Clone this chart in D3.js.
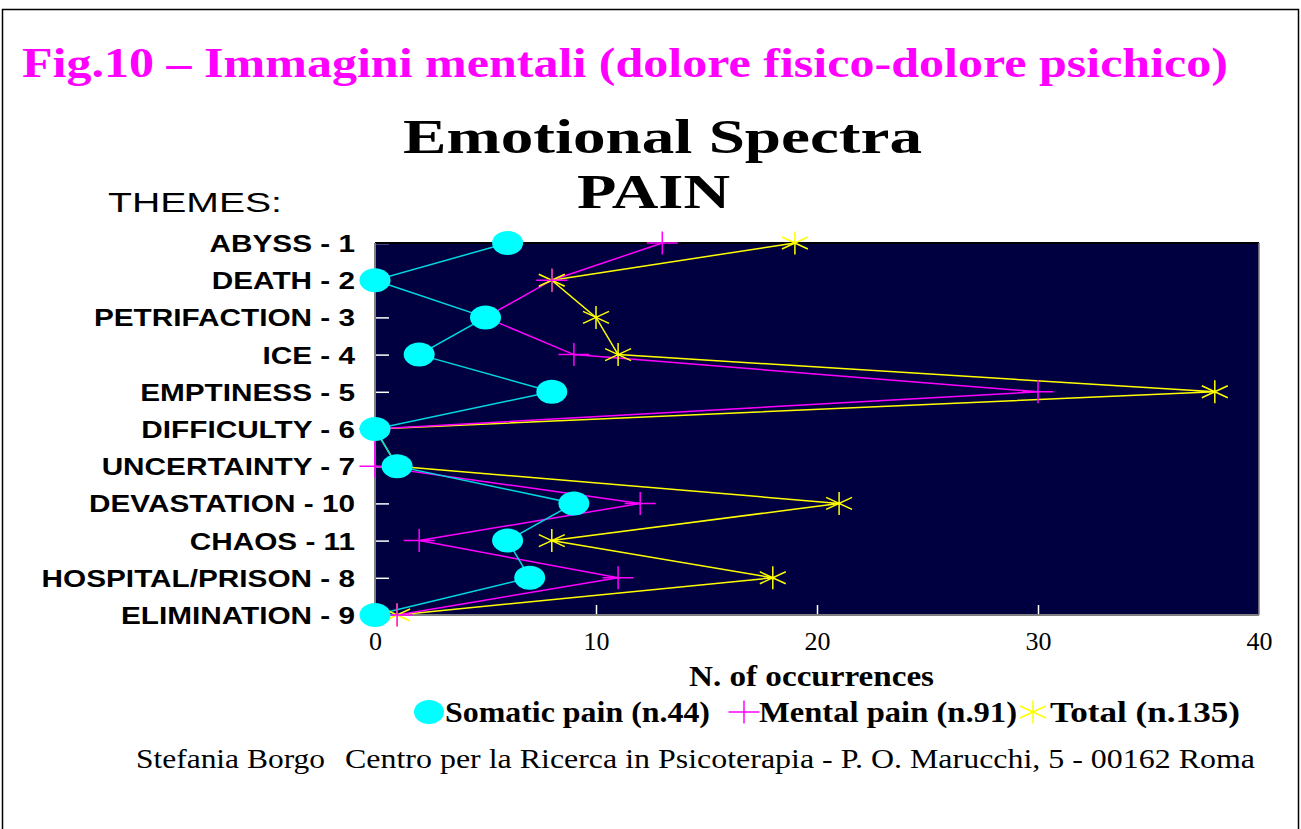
<!DOCTYPE html>
<html>
<head>
<meta charset="utf-8">
<script src="https://cdn.jsdelivr.net/npm/d3@7"></script>
<style>
  body { margin: 0; background: #fff; }
  svg { display: block; }
</style>
</head>
<body>
<svg id="chart" width="1301" height="829"></svg>
<script>
// themes, top to bottom
const themes = ["ABYSS - 1", "DEATH - 2", "PETRIFACTION - 3", "ICE - 4", "EMPTINESS - 5",
    "DIFFICULTY - 6", "UNCERTAINTY - 7", "DEVASTATION - 10", "CHAOS - 11",
    "HOSPITAL/PRISON - 8", "ELIMINATION - 9"];
const somatic = [6, 0, 5, 2, 8, 0, 1, 9, 6, 7, 0];
const mental = [13, 8, 5, 9, 30, 0, 0, 12, 2, 11, 1];
const total = [19, 8, 10, 11, 38, 0, 1, 21, 8, 18, 1];
const xTicks = [0, 10, 20, 30, 40];

const svg = d3.select("#chart");
const serif = "'Liberation Serif', 'Times New Roman', serif";
const sans = "'Liberation Sans', Arial, sans-serif";

// outer frame
svg.append("rect")
    .attr("x", 2.5).attr("y", 9.5)
    .attr("width", 1296).attr("height", 900)
    .attr("fill", "none").attr("stroke", "#000").attr("stroke-width", 1.5);

// headings
svg.append("text")
    .attr("x", 22).attr("y", 77)
    .attr("font-family", serif).attr("font-weight", "bold").attr("font-size", 42)
    .attr("fill", "#ff00ff")
    .attr("textLength", 1206).attr("lengthAdjust", "spacingAndGlyphs")
    .text("Fig.10 \u2013 Immagini mentali (dolore fisico-dolore psichico)");

svg.append("text")
    .attr("x", 403).attr("y", 153)
    .attr("font-family", serif).attr("font-weight", "bold").attr("font-size", 49)
    .attr("textLength", 519).attr("lengthAdjust", "spacingAndGlyphs")
    .text("Emotional  Spectra");

svg.append("text")
    .attr("x", 577).attr("y", 208)
    .attr("font-family", serif).attr("font-weight", "bold").attr("font-size", 49)
    .attr("textLength", 153).attr("lengthAdjust", "spacingAndGlyphs")
    .text("PAIN");

svg.append("text")
    .attr("x", 108).attr("y", 212)
    .attr("font-family", sans).attr("font-size", 28)
    .attr("textLength", 174).attr("lengthAdjust", "spacingAndGlyphs")
    .text("THEMES:");

// plot area
const plotLeft = 375, plotRight = 1259, plotTop = 243, plotBottom = 615;

const x = d3.scaleLinear().domain([0, 40]).range([plotLeft, plotRight]);
const y = d3.scalePoint().domain(themes).range([plotTop, plotBottom]);

svg.append("rect")
    .attr("x", plotLeft).attr("y", plotTop)
    .attr("width", plotRight - plotLeft).attr("height", plotBottom - plotTop)
    .attr("fill", "#000040");

// y ticks inside the plot
const yAxis = svg.append("g")
    .attr("transform", `translate(${plotLeft},0)`)
    .call(d3.axisLeft(y).tickSize(-14).tickFormat(""));
yAxis.select(".domain").remove();
yAxis.selectAll(".tick line").attr("stroke", "#fff").attr("stroke-width", 1.5);

// x axis
const xAxis = svg.append("g")
    .attr("transform", `translate(0,${plotBottom})`)
    .call(d3.axisBottom(x).tickValues(xTicks).tickSize(-10).tickPadding(17));
xAxis.select(".domain").remove();
xAxis.selectAll(".tick line").attr("stroke", "#fff").attr("stroke-width", 1.5);
xAxis.selectAll(".tick line").filter(d => d === 0 || d === 40).remove();
xAxis.selectAll(".tick text")
    .attr("font-family", serif).attr("font-size", 26).attr("fill", "#000");

// plot borders
svg.append("line").attr("x1", plotLeft).attr("x2", plotRight).attr("y1", plotTop).attr("y2", plotTop)
    .attr("stroke", "#000").attr("stroke-width", 2);
svg.append("line").attr("x1", plotRight).attr("x2", plotRight).attr("y1", plotTop).attr("y2", plotBottom)
    .attr("stroke", "#808080").attr("stroke-width", 1.5);
svg.append("line").attr("x1", plotLeft).attr("x2", plotRight).attr("y1", plotBottom).attr("y2", plotBottom)
    .attr("stroke", "#808080").attr("stroke-width", 2);
svg.append("line").attr("x1", plotLeft).attr("x2", plotLeft).attr("y1", plotTop).attr("y2", plotBottom)
    .attr("stroke", "#808080").attr("stroke-width", 2);

// theme labels (stretched wide like the original)
svg.append("g").selectAll("text")
    .data(themes)
    .join("text")
    .attr("transform", d => `translate(355,${y(d) + 9}) scale(1.24,1)`)
    .attr("text-anchor", "end")
    .attr("font-family", sans).attr("font-weight", "bold").attr("font-size", 24)
    .text(d => d);

// markers
const crossPath = "M-15.5,0H15.5M0,-11.5V11.5";
const starPath = "M0,-11.5V11.5M-13,-6L13,6M-13,6L13,-6";

const series = [
    { name: "total", values: total, color: "#ffff00" },
    { name: "mental", values: mental, color: "#ff00ff" },
    { name: "somatic", values: somatic, color: "#00d8e0" }
];

const line = d3.line()
    .x(d => x(d.v))
    .y(d => y(d.t));

const plot = svg.append("g");

series.forEach(s => {
    const pts = themes.map((t, i) => ({ t: t, v: s.values[i] }));
    plot.append("path")
        .datum(pts)
        .attr("fill", "none")
        .attr("stroke", s.color)
        .attr("stroke-width", 1.5)
        .attr("d", line);
});

const marks = svg.append("g");

const starPts = themes.map((t, i) => ({ t: t, v: total[i] }));
marks.selectAll(".star")
    .data(starPts)
    .join("path")
    .attr("class", "star")
    .attr("transform", d => `translate(${x(d.v)},${y(d.t)})`)
    .attr("d", starPath)
    .attr("fill", "none").attr("stroke", "#ffff00").attr("stroke-width", 1.5);

const crossPts = themes.map((t, i) => ({ t: t, v: mental[i] }));
marks.selectAll(".cross")
    .data(crossPts)
    .join("path")
    .attr("class", "cross")
    .attr("transform", d => `translate(${x(d.v)},${y(d.t)})`)
    .attr("d", crossPath)
    .attr("fill", "none").attr("stroke", "#ff00ff").attr("stroke-width", 1.5);

const dotPts = themes.map((t, i) => ({ t: t, v: somatic[i] }));
marks.selectAll(".dot")
    .data(dotPts)
    .join("ellipse")
    .attr("class", "dot")
    .attr("cx", d => x(d.v))
    .attr("cy", d => y(d.t))
    .attr("rx", 15.5).attr("ry", 12)
    .attr("fill", "#00ffff");

// axis title
svg.append("text")
    .attr("x", 689).attr("y", 686)
    .attr("font-family", serif).attr("font-weight", "bold").attr("font-size", 30)
    .attr("textLength", 245).attr("lengthAdjust", "spacingAndGlyphs")
    .text("N. of occurrences");

// legend
const legendY = 712;
const legend = svg.append("g");
legend.append("ellipse")
    .attr("cx", 429).attr("cy", legendY).attr("rx", 15).attr("ry", 12)
    .attr("fill", "#00ffff");
legend.append("path")
    .attr("transform", `translate(744,${legendY})`)
    .attr("d", crossPath)
    .attr("fill", "none").attr("stroke", "#ff00ff").attr("stroke-width", 1.5);
legend.append("path")
    .attr("transform", `translate(1033,${legendY})`)
    .attr("d", starPath)
    .attr("fill", "none").attr("stroke", "#ffff00").attr("stroke-width", 1.5);

const legendTexts = [
    { text: "Somatic pain (n.44)", x: 445, w: 265 },
    { text: "Mental pain (n.91)", x: 759, w: 258 },
    { text: "Total  (n.135)", x: 1050, w: 190 }
];
legend.selectAll("text")
    .data(legendTexts)
    .join("text")
    .attr("x", d => d.x).attr("y", legendY + 10)
    .attr("font-family", serif).attr("font-weight", "bold").attr("font-size", 30)
    .attr("textLength", d => d.w).attr("lengthAdjust", "spacingAndGlyphs")
    .text(d => d.text);

// footer
svg.append("text")
    .attr("x", 136).attr("y", 768)
    .attr("font-family", serif).attr("font-size", 27)
    .attr("textLength", 189).attr("lengthAdjust", "spacingAndGlyphs")
    .text("Stefania Borgo");
svg.append("text")
    .attr("x", 345).attr("y", 768)
    .attr("font-family", serif).attr("font-size", 27)
    .attr("textLength", 910).attr("lengthAdjust", "spacingAndGlyphs")
    .text("Centro per la Ricerca in Psicoterapia - P. O. Marucchi, 5 - 00162 Roma");
</script>
</body>
</html>
